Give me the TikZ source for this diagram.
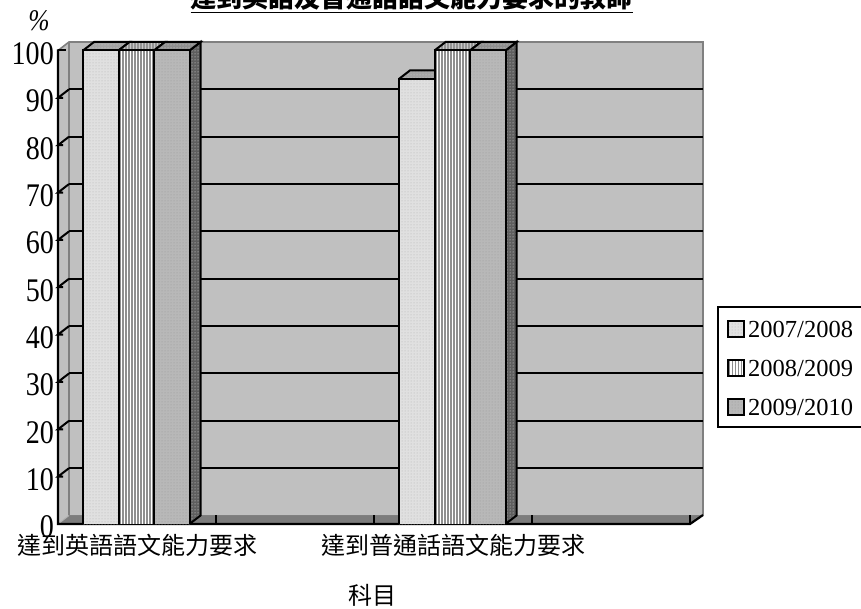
\documentclass[tikz,border=0pt]{standalone}
\usepackage{fontspec}
\setmainfont{Liberation Serif}
\newfontfamily\cjk{Noto Sans CJK TC}
\usetikzlibrary{patterns}
\definecolor{wallc}{HTML}{C0C0C0}
\definecolor{edgec}{HTML}{808080}
\definecolor{floorc}{HTML}{7C7C7C}
\definecolor{bAf}{HTML}{E0E0E0}
\definecolor{bAt}{HTML}{A4A4A4}
\definecolor{bCf}{HTML}{B8B8B8}
\definecolor{bCt}{HTML}{8E8E8E}
\definecolor{sidec}{HTML}{5E5E5E}
\definecolor{stripec}{HTML}{8E8E8E}
\tikzset{
  axisline/.style={line width=2.2pt, black},
  gridl/.style={line width=2pt, black},
  wallline/.style={line width=1.6pt, edgec},
  bAfront/.style={fill=bAf, postaction={pattern=dots, pattern color=gray!60}},
  bAtop/.style={fill=bAt, postaction={pattern=dots, pattern color=gray!35}},
  bCfront/.style={fill=bCf, postaction={pattern=dots, pattern color=gray!80}},
  bCtop/.style={fill=bCt, postaction={pattern=dots, pattern color=gray!30}},
  bside/.style={fill=sidec, postaction={pattern=dots, pattern color=gray!20}},
  barline/.style={line width=2pt, black, line join=miter},
  stripe/.style={line width=1.4pt, stripec},
  numlab/.style={font=\fontsize{33}{33}\selectfont, anchor=east, inner sep=0pt},
  catlab/.style={font=\cjk\fontsize{24}{24}\selectfont, inner sep=0pt},
  leglab/.style={font=\fontsize{24.5}{24.5}\selectfont, anchor=west, inner sep=0pt},
  swatch/.style={line width=1.5pt, black},
}
\newcommand{\cnum}[1]{\scalebox{0.85}[1]{#1}}
% dotted bar: x, value, front style, top style, draw side (1/0)
\newcommand{\dotbar}[5]{%
  \pgfmathsetmacro{\xa}{#1}%
  \pgfmathsetmacro{\xb}{#1+35.5}%
  \pgfmathsetmacro{\yt}{524-4.735*#2}%
  \ifnum#5=1
    \fill[bside] (\xb,\yt) -- ++(11,-8.5) -- (\xb+11,515.5) -- (\xb,524) -- cycle;
    \draw[barline] (\xb,\yt) -- ++(11,-8.5) -- (\xb+11,515.5) -- (\xb,524);
  \fi
  \fill[#3] (\xa,\yt) rectangle (\xb,524);
  \fill[#4] (\xa,\yt) -- (\xb,\yt) -- ++(11,-8.5) -- (\xa+11,\yt-8.5) -- cycle;
  \draw[barline] (\xa,524) -- (\xa,\yt) -- (\xb,\yt) -- (\xb,524);
  \draw[barline] (\xa,\yt) -- (\xa+11,\yt-8.5) -- (\xb+11,\yt-8.5) -- (\xb,\yt);
}
% striped bar: x, value
\newcommand{\stripebar}[2]{%
  \pgfmathsetmacro{\xa}{#1}%
  \pgfmathsetmacro{\xb}{#1+35.5}%
  \pgfmathsetmacro{\yt}{524-4.735*#2}%
  \fill[white] (\xa,\yt) rectangle (\xb,524);
  \foreach \s in {1.5,4.5,...,34.5} \draw[stripe] (\xa+\s,\yt) -- (\xa+\s,524);
  \begin{scope}
    \clip (\xa,\yt) -- (\xb,\yt) -- ++(11,-8.5) -- (\xa+11,\yt-8.5) -- cycle;
    \fill[gray!45] (\xa,\yt-9) rectangle (\xb+11,\yt);
    \foreach \s in {1.5,4.5,...,46.5} \draw[line width=1.4pt, gray!85] (\xa+\s,\yt-9) -- (\xa+\s,\yt);
  \end{scope}
  \draw[barline] (\xa,524) -- (\xa,\yt) -- (\xb,\yt) -- (\xb,524);
  \draw[barline] (\xa,\yt) -- (\xa+11,\yt-8.5) -- (\xb+11,\yt-8.5) -- (\xb,\yt);
}
\begin{document}
\begin{tikzpicture}[x=1pt,y=-1pt]
\useasboundingbox (0,0) rectangle (861,609);
\fill[white] (0,0) rectangle (861,609);
% walls and floor
\fill[wallc] (69,42) rectangle (703,515.5);
\fill[wallc] (58,50.5) -- (69,42) -- (69,515.5) -- (58,524) -- cycle;
\fill[floorc] (58,524) -- (690,524) -- (703,515.5) -- (69,515.5) -- cycle;
\draw[wallline] (58,50.5) -- (69,42) -- (703,42) -- (703,515.5);
\draw[wallline] (69,42) -- (69,515.5) -- (703,515.5);
\draw[wallline, line width=1pt, gray!60] (58,524) -- (69,515.5);
% grid lines with ticks
\foreach \v in {10,20,...,90} {
  \draw[gridl] (69,515.5-4.735*\v) -- (703,515.5-4.735*\v);
  \draw[gridl] (63,524-4.735*\v) -- (58,524-4.735*\v) -- (69,515.5-4.735*\v);
}
\draw[gridl] (58,50.5) -- (66,50.5);
% floor ticks and axes
\foreach \x in {216,374,532} \draw[gridl] (\x,524) -- (\x,514.5);
\draw[axisline] (58,49.5) -- (58,524) -- (690,524) -- (703,515);
\draw[gridl] (690,524) -- (690,514.5);
% bars
\dotbar{83}{100}{bAfront}{bAtop}{0}
\stripebar{118.5}{100}
\dotbar{154}{100}{bCfront}{bCtop}{1}
\dotbar{399}{94}{bAfront}{bAtop}{0}
\stripebar{434.5}{100}
\dotbar{470}{100}{bCfront}{bCtop}{1}
% y labels
\node[numlab] (l100) at (54,53.5) {\cnum{100}};
\foreach \v in {0,10,...,90} \node[numlab] (l\v) at (54,527-4.735*\v) {\cnum{\v}};
\node[font=\itshape\fontsize{30}{30}\selectfont, inner sep=0pt] (pct) at (39,21) {\cnum{\%}};
% category labels
\node[catlab] (c1) at (137,545) {達到英語語文能力要求};
\node[catlab] (c2) at (453,545) {達到普通話語文能力要求};
\node[catlab] (xt) at (372,595) {科目};
% title
\node[font=\cjk\bfseries\fontsize{26}{26}\selectfont, anchor=base, inner sep=0pt] (title) at (411.5,8) {\underline{達到英語及普通話語文能力要求的教師}};
% legend
\draw[line width=2pt, fill=white] (717.5,307) rectangle (875,427);
\fill[bAfront] (728,321) rectangle (744,337);
\draw[swatch] (728,321) rectangle (744,337);
\fill[white] (728,360) rectangle (744,376);
\foreach \s in {1.5,4.5,...,13.5} \draw[line width=1.2pt, stripec] (728+\s,360) -- (728+\s,376);
\draw[swatch] (728,360) rectangle (744,376);
\fill[bCfront] (728,399) rectangle (744,415);
\draw[swatch] (728,399) rectangle (744,415);
\node[leglab] (e1) at (748,329.5) {2007/2008};
\node[leglab] (e2) at (748,368.5) {2008/2009};
\node[leglab] (e3) at (748,407.5) {2009/2010};
\end{tikzpicture}
\end{document}
